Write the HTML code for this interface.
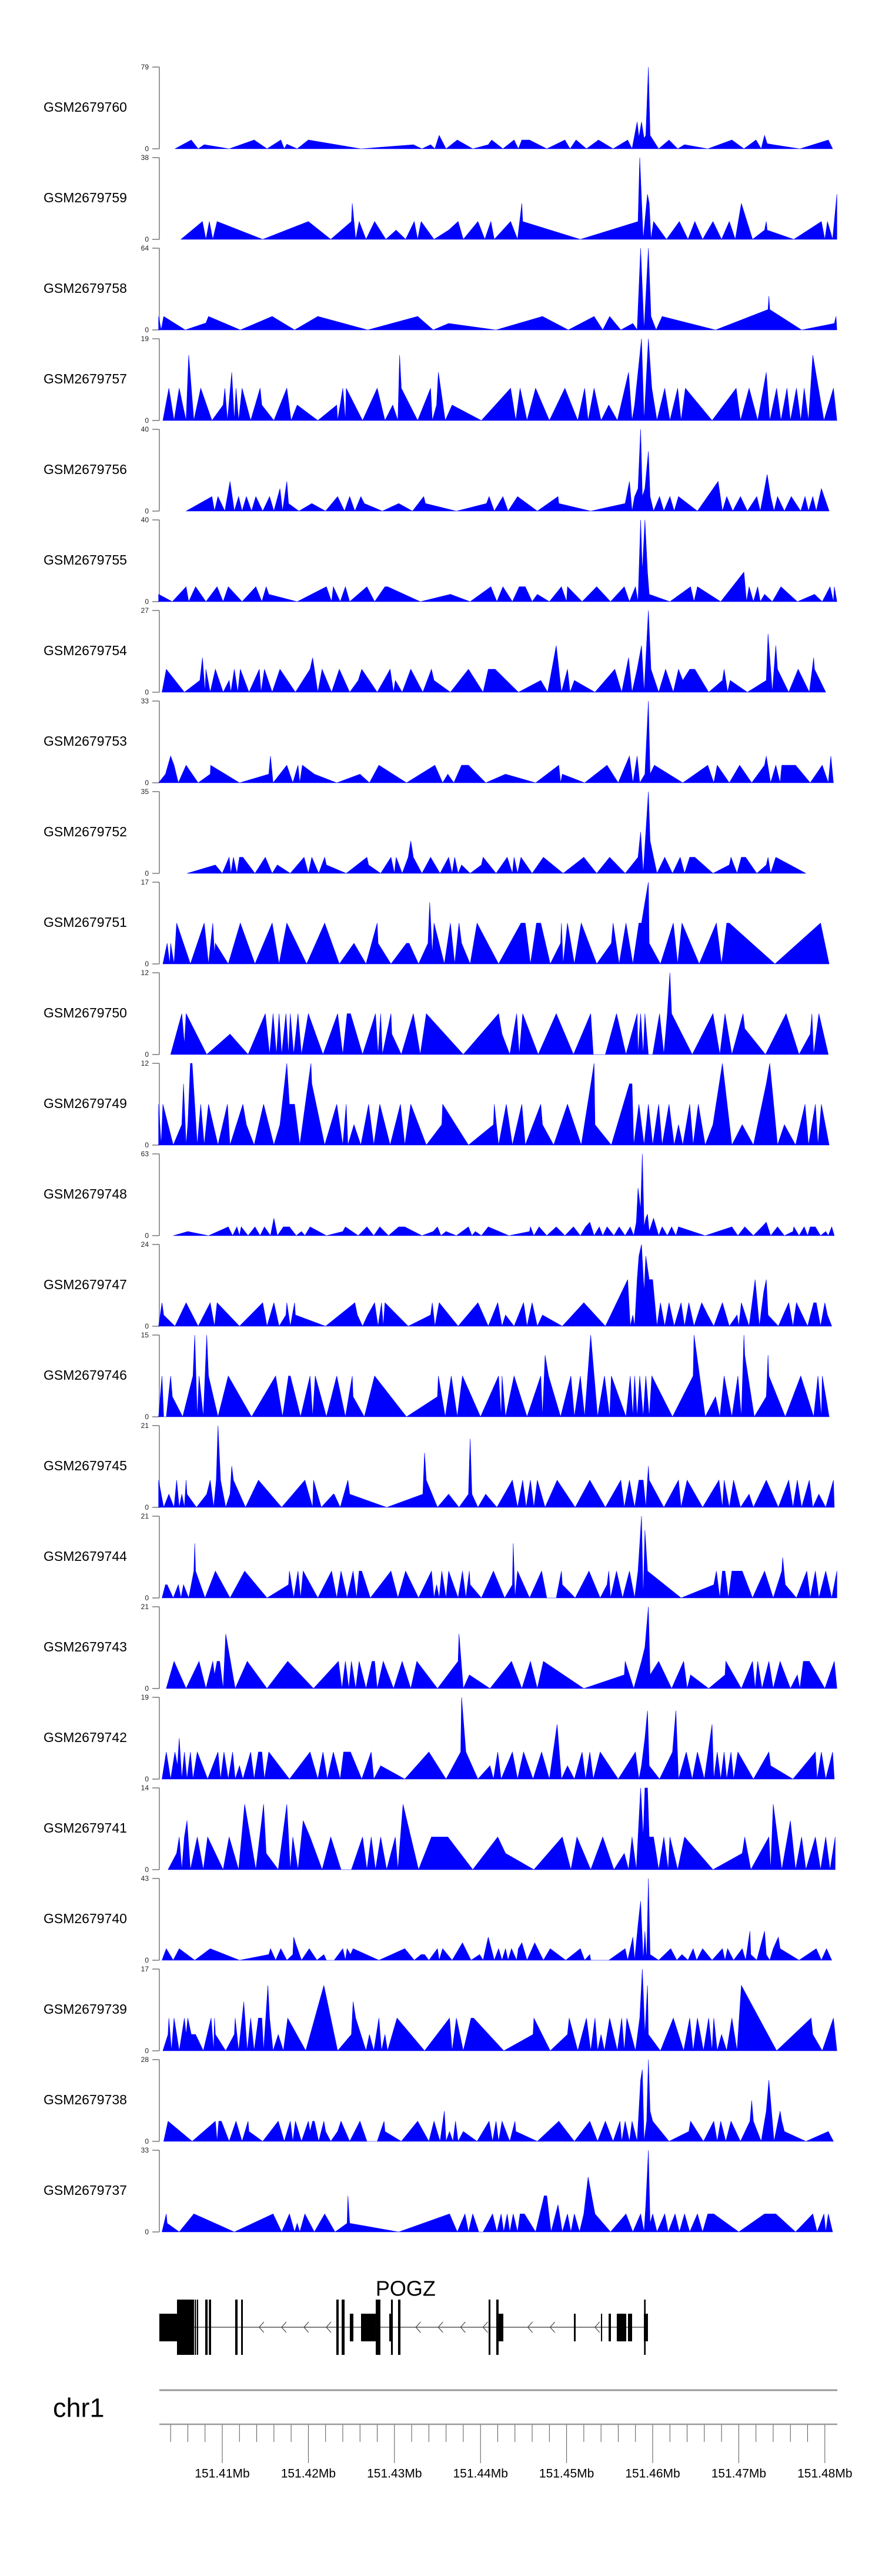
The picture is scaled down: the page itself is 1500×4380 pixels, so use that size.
<!DOCTYPE html>
<html>
<head>
<meta charset="utf-8">
<style>
html,body{margin:0;padding:0;background:#fff;}
svg{display:block;}
text{font-family:"Liberation Sans",Arial,sans-serif;}
</style>
</head>
<body>
<svg id="fig" width="1500" height="4380" viewBox="0 0 1500 4380" xmlns="http://www.w3.org/2000/svg"></svg>
<script>
// ---------- data ----------
const sampleNames = ["GSM2679760","GSM2679759","GSM2679758","GSM2679757","GSM2679756","GSM2679755","GSM2679754","GSM2679753","GSM2679752","GSM2679751","GSM2679750","GSM2679749","GSM2679748","GSM2679747","GSM2679746","GSM2679745","GSM2679744","GSM2679743","GSM2679742","GSM2679741","GSM2679740","GSM2679739","GSM2679738","GSM2679737"];
const yMax = [79,38,64,19,40,40,27,33,35,17,12,12,63,24,15,21,21,21,19,14,43,17,28,33];
// positions in kb relative to chr1:151,400,000
const cov60 = [[4.5,0],[6.4,8.5],[7.2,0],[7.9,4],[10.8,0],[13.7,8.5],[15.2,0],[16.8,8.5],[17.2,0],[17.5,4.5],[18.7,0],[20.0,8.5],[26.1,0],[32.2,4],[33.2,0],[34.2,4],[34.7,0],[35.2,13],[36.0,0],[37.3,8.5],[39.1,0],[40.9,4],[41.3,8.5],[42.6,0],[43.9,8.5],[44.4,0],[44.8,8.5],[45.7,8.5],[47.7,0],[49.8,8.5],[50.4,0],[51.1,8.5],[52.3,0],[53.7,8.5],[55.4,0],[57.1,8.5],[57.6,0],[57.9,13],[58.2,26],[58.4,11],[58.7,26],[59.0,10],[59.2,13],[59.5,79],[59.7,13],[60.7,0],[61.9,8.5],[62.9,0],[63.7,4],[66.4,0],[69.2,8.5],[70.6,0],[72.0,8.5],[72.6,0],[73.0,13],[73.3,5],[74.0,4],[77.1,0],[80.4,8.5],[80.9,0]];
const cov59 = [[5.2,0],[7.7,8.3],[8.1,0],[8.5,8.3],[8.9,0],[9.4,8.3],[14.7,0],[20.0,8.3],[22.6,0],[25.0,8.3],[25.1,16.7],[25.5,0],[25.9,8.3],[26.7,0],[27.7,8.3],[29.0,0],[30.2,4.3],[31.3,0],[32.3,8.3],[32.7,0],[33.1,8.3],[34.6,0],[36.3,4.3],[37.4,8.3],[38.0,0],[39.7,8.3],[40.5,0],[41.2,8.3],[41.6,0],[43.5,8.3],[44.3,0],[44.8,16.7],[44.9,8.3],[51.6,0],[58.3,8.3],[58.5,38],[58.9,0],[59.2,13],[59.4,21],[59.6,16.7],[59.8,0],[60.1,8.3],[61.6,0],[63.1,8.3],[64.1,0],[64.9,8.3],[65.8,0],[67.0,8.3],[68.0,0],[68.9,8.3],[69.6,0],[70.3,16.7],[71.6,0],[73.0,4.3],[73.2,8.3],[73.3,4.3],[76.4,0],[79.6,8.3],[80.0,0],[80.3,8.3],[80.9,0],[81.4,21]];
const cov58 = [[2.6,10.6],[2.9,0],[3.2,10.6],[5.7,0],[8.1,5.5],[8.4,10.6],[12.1,0],[15.8,10.6],[18.4,0],[21.1,10.6],[26.9,0],[32.7,10.6],[34.5,0],[36.3,5.1],[41.8,0],[47.2,10.6],[50.2,0],[53.2,10.6],[54.2,0],[55.0,10.6],[56.3,0],[57.7,5.1],[58.2,0],[58.6,64],[59.0,0],[59.5,64],[59.8,10.6],[60.4,0],[61.1,10.6],[67.3,0],[73.4,16],[73.5,26.5],[73.6,16],[77.3,0],[81.1,5.1],[81.3,10.6],[81.4,0]];
const cov57 = [[3.1,0],[3.8,7.5],[4.4,0],[5.0,7.5],[5.4,3.6],[5.8,0],[6.1,15.2],[6.7,0],[7.5,7.5],[8.8,0],[10.1,3.6],[10.3,7.5],[10.6,0],[11.1,11.2],[11.4,0],[11.6,7.5],[11.9,0],[12.3,7.5],[13.3,0],[14.4,7.5],[14.6,3.6],[16.0,0],[17.5,7.5],[18.0,0],[18.7,3.6],[21.1,0],[23.3,3.6],[23.4,0],[24.0,7.5],[24.3,0],[24.4,7.5],[26.3,0],[28.0,7.5],[28.9,0],[29.8,3.6],[30.4,0],[30.6,15.2],[30.8,7.5],[32.7,0],[34.2,7.5],[34.4,0],[34.9,3.6],[35.1,11.2],[35.9,0],[36.7,3.6],[40.1,0],[43.5,7.5],[44.1,0],[44.6,7.5],[45.4,0],[46.4,7.5],[48.0,0],[49.8,7.5],[51.3,0],[52.1,7.5],[52.5,0],[53.2,7.5],[54.0,0],[54.9,3.6],[55.9,0],[57.2,11.2],[57.6,0],[57.9,3.6],[58.7,19],[59.0,0],[59.5,19],[59.9,7.5],[60.5,0],[61.4,7.5],[62.0,0],[62.9,7.5],[63.3,0],[63.8,7.5],[66.9,0],[69.7,7.5],[70.2,0],[71.2,7.5],[72.2,0],[73.2,11.2],[73.6,0],[74.4,7.5],[74.9,0],[75.6,7.5],[76.0,0],[76.7,7.5],[77.2,0],[77.6,7.5],[78.1,0],[78.6,15.2],[79.9,0],[81.0,7.5],[81.4,0]];
const cov56 = [[5.8,0],[8.8,7.1],[9.1,0],[9.5,7.1],[10.3,0],[10.9,14.5],[11.4,0],[11.9,7.1],[12.3,0],[12.8,7.1],[13.4,0],[13.9,7.1],[14.7,0],[15.5,7.1],[16.0,0],[16.7,11],[17.0,0],[17.5,14.5],[17.7,3.7],[18.9,0],[20.4,3.7],[22.0,0],[23.4,7.1],[24.2,0],[24.8,7.1],[25.4,0],[26.1,7.1],[26.5,3.7],[28.6,0],[30.5,3.7],[32.1,0],[33.4,7.1],[33.6,3.7],[37.2,0],[40.7,3.7],[41.0,7.1],[41.6,0],[42.6,7.1],[43.2,0],[44.3,7.1],[46.6,0],[49.0,7.1],[49.1,3.7],[52.8,0],[56.8,3.7],[57.3,14.5],[57.6,0],[57.9,7.1],[58.3,11],[58.6,40],[58.8,7.1],[59.1,11],[59.5,29.2],[59.7,7.1],[60.1,0],[60.8,7.1],[61.3,0],[62.0,7.1],[62.5,0],[63.0,7.1],[65.2,0],[67.6,14.5],[68.1,0],[68.6,7.1],[69.3,0],[70.2,7.1],[71.0,0],[72.1,7.1],[72.5,0],[73.0,11],[73.3,18],[73.7,7.1],[74.1,0],[74.5,7.1],[75.3,0],[76.1,7.1],[77.2,0],[77.7,7.1],[78.1,0],[78.6,7.1],[79.0,0],[79.6,11],[80.5,0]];
const cov55 = [[2.6,3.6],[4.2,0],[5.8,7.3],[6.1,0],[6.9,7.3],[8.1,0],[9.4,7.3],[10.1,0],[10.7,7.3],[12.3,0],[13.9,7.3],[14.6,0],[15.1,7.3],[15.4,3.6],[18.7,0],[22.1,7.3],[22.7,0],[22.9,7.3],[23.7,0],[24.3,7.3],[24.8,0],[26.8,7.3],[27.7,0],[28.9,7.3],[29.2,7.3],[33.0,0],[36.5,3.6],[38.8,0],[41.2,7.3],[41.9,0],[42.6,7.3],[43.7,0],[44.5,7.3],[45.2,7.3],[46.0,0],[46.6,3.6],[48.0,0],[49.4,7.3],[50.0,0],[50.1,7.3],[51.8,0],[53.5,7.3],[55.1,0],[56.7,7.3],[57.3,0],[58.0,7.3],[58.3,0],[58.6,40],[58.8,14.5],[59.1,40],[59.4,14.5],[59.6,3.6],[62.0,0],[64.4,7.3],[64.8,0],[65.2,7.3],[67.9,0],[70.6,14.5],[70.9,0],[71.2,7.3],[71.7,0],[72.2,7.3],[72.5,0],[73.0,3.6],[73.9,0],[74.9,7.3],[76.8,0],[78.8,3.6],[79.7,0],[80.6,7.3],[81.0,0],[81.1,7.3],[81.4,0]];
const cov54 = [[3.0,0],[3.5,7.6],[5.6,0],[7.4,3.9],[7.7,11.4],[8.0,0],[8.1,7.6],[8.6,0],[9.2,7.6],[10.1,0],[10.8,3.9],[11.0,0],[11.4,7.6],[11.8,0],[12.1,7.6],[13.1,0],[14.3,7.6],[14.5,0],[14.9,7.6],[15.8,0],[16.7,7.6],[18.5,0],[20.2,7.6],[20.5,11.4],[21.1,0],[21.6,7.6],[22.7,0],[23.6,7.6],[24.8,0],[25.8,3.9],[26.2,7.6],[28.0,0],[29.5,7.6],[29.9,0],[30.1,3.9],[30.9,0],[31.9,7.6],[33.3,0],[34.3,7.6],[34.6,3.9],[36.5,0],[38.6,7.6],[40.3,0],[40.9,7.6],[41.7,7.6],[44.4,0],[47.0,3.9],[47.8,0],[48.8,15.4],[49.4,0],[50.1,7.6],[50.4,0],[50.9,3.9],[53.3,0],[55.6,7.6],[56.4,0],[57.2,11.4],[57.6,0],[58.2,7.6],[58.7,15.4],[59.0,0],[59.5,27],[59.8,7.6],[60.7,0],[61.5,7.6],[62.4,0],[63.0,7.6],[63.5,3.9],[64.3,7.6],[64.9,7.6],[66.5,0],[68.1,3.9],[68.3,7.6],[68.7,0],[69.0,3.9],[71.0,0],[73.2,3.9],[73.4,19.3],[73.9,0],[74.3,15.4],[74.5,7.6],[75.8,0],[76.9,7.6],[78.2,0],[78.7,11.4],[78.8,7.6],[80.1,0]];
const cov53 = [[2.6,0],[3.4,3.5],[4.0,10.8],[4.4,7.1],[4.9,0],[5.8,7.1],[7.2,0],[8.6,3.5],[8.65,7.1],[12.0,0],[15.4,3.5],[15.6,10.8],[15.9,0],[17.5,7.1],[18.2,0],[18.8,7.1],[19.0,0],[19.3,7.1],[20.7,3.5],[23.3,0],[26.0,3.5],[27.1,0],[28.2,7.1],[31.4,0],[34.7,7.1],[35.6,0],[36.2,3.5],[36.9,0],[37.8,7.1],[38.6,7.1],[40.6,0],[42.9,3.5],[46.4,0],[49.1,7.1],[49.3,0],[49.5,3.5],[52.1,0],[54.7,7.1],[56.0,0],[57.3,10.8],[57.7,0],[58.2,10.8],[58.5,0],[59.1,3.5],[59.5,33],[59.7,3.5],[60.2,7.1],[63.5,0],[66.4,7.1],[67.1,0],[67.5,7.1],[68.9,0],[70.1,7.1],[71.5,0],[73.0,7.1],[73.2,10.8],[73.7,0],[74.3,7.1],[74.8,0],[75.0,7.1],[76.6,7.1],[78.3,0],[79.7,7.1],[80.4,0],[80.7,10.8],[81.0,0]];
const cov52 = [[5.9,0],[9.2,3.6],[10.0,0],[10.8,6.9],[11.0,0],[11.3,6.9],[11.7,0],[12.0,6.9],[12.4,6.9],[13.8,0],[15.0,6.9],[15.8,0],[16.4,3.6],[17.9,0],[19.5,6.9],[20.0,0],[20.4,6.9],[21.2,0],[21.9,6.9],[22.1,3.6],[24.4,0],[26.8,6.9],[27.0,3.6],[28.4,0],[29.6,6.9],[30.0,0],[30.2,6.9],[30.9,0],[31.6,6.9],[31.9,13.9],[32.2,6.9],[33.2,0],[34.2,6.9],[35.3,0],[36.3,6.9],[36.7,0],[37.0,6.9],[37.4,0],[37.8,3.6],[38.8,0],[40.1,3.6],[40.3,6.9],[41.8,0],[43.1,6.9],[43.7,0],[43.9,6.9],[44.3,0],[44.7,6.9],[46.0,0],[47.3,6.9],[49.6,0],[52.0,6.9],[53.5,0],[55.0,6.9],[56.8,0],[58.3,6.9],[58.6,17.7],[58.9,0],[59.5,35],[59.7,13.9],[60.5,0],[61.4,6.9],[62.3,0],[63.2,6.9],[63.7,0],[64.3,6.9],[64.9,6.9],[67.0,0],[68.9,3.6],[69.1,6.9],[69.8,0],[70.3,6.9],[70.8,6.9],[72.1,0],[73.2,3.6],[73.4,6.9],[73.7,0],[74.3,6.9],[77.8,0]];
const cov51 = [[3.1,0],[3.6,4.3],[3.9,0],[4.0,4.3],[4.4,0],[4.7,8.5],[6.3,0],[7.9,8.5],[8.4,0],[8.9,8.5],[9.1,2.1],[9.2,4.3],[10.7,0],[12.1,8.5],[13.8,0],[15.8,8.5],[16.6,0],[17.5,8.5],[19.8,0],[21.9,8.5],[23.6,0],[25.3,4.3],[26.7,0],[28.0,8.5],[28.1,4.3],[29.6,0],[31.4,4.3],[31.7,4.3],[32.8,0],[33.9,4.3],[34.1,12.8],[34.4,2.1],[34.6,8.5],[35.8,0],[36.5,8.5],[37.0,0],[37.5,8.5],[37.8,4.3],[38.8,0],[39.6,8.5],[42.1,0],[44.7,8.5],[45.2,8.5],[45.8,0],[46.5,8.5],[47.0,8.5],[48.1,0],[49.3,4.3],[49.4,8.5],[49.6,0],[50.1,8.5],[50.9,0],[51.7,8.5],[53.5,0],[55.2,4.3],[55.4,8.5],[56.1,0],[56.9,8.5],[57.7,0],[58.4,8.5],[58.7,8.5],[59.1,12.8],[59.5,17],[59.6,4.3],[60.9,0],[62.4,8.5],[62.9,0],[63.4,8.5],[65.4,0],[67.4,8.5],[68.0,0],[68.6,8.5],[68.9,8.5],[74.2,0],[79.5,8.5],[80.5,0]];
const cov50 = [[4.0,0],[5.3,6],[5.6,1.5],[5.8,6],[8.2,0],[10.9,3],[13.0,0],[15.0,6],[15.5,0],[15.9,6],[16.3,0],[16.6,6],[16.9,0],[17.4,6],[17.7,0],[17.9,6],[18.3,0],[18.8,6],[19.2,0],[20.0,6],[21.7,0],[23.4,6],[24.0,0],[24.5,6],[24.9,6],[26.3,0],[27.8,6],[28.1,0],[28.4,6],[28.6,0],[29.6,6],[29.7,3],[30.8,0],[32.2,6],[33.0,0],[33.7,6],[38.0,0],[42.1,6],[42.5,3],[43.4,0],[44.2,6],[44.5,0],[44.9,6],[46.7,0],[48.8,6],[50.8,0],[52.8,6],[53.1,0],[54.5,0],[55.8,6],[56.9,0],[58.2,6],[58.3,0],[58.6,6],[58.9,0],[59.1,6],[59.5,0],[60.0,0],[60.8,6],[61.3,0],[61.7,6],[62.0,12],[62.2,6],[64.6,0],[67.0,6],[67.8,0],[68.4,6],[69.2,0],[70.5,6],[70.7,3.8],[73.1,0],[75.5,6],[77.0,0],[78.3,3],[78.5,6],[78.7,0],[79.3,6],[80.4,0]];
const cov49 = [[2.6,6],[2.9,0],[3.1,6],[4.3,0],[5.3,3],[5.5,9],[5.8,0],[6.0,3],[6.3,12],[6.5,12],[7.1,0],[7.5,6],[7.9,0],[8.4,6],[9.5,0],[10.6,6],[10.9,0],[12.4,6],[12.8,3],[13.7,0],[14.8,6],[16.0,0],[16.7,3],[17.5,12],[17.8,6],[18.4,6],[19.0,0],[20.3,12],[20.4,9],[21.9,0],[23.3,6],[24.0,0],[24.4,6],[24.6,0],[25.3,3],[26.1,0],[27.0,6],[27.6,0],[28.3,6],[29.5,0],[30.7,6],[31.2,0],[31.9,6],[33.7,0],[35.5,3],[35.6,6],[38.6,0],[41.5,3],[41.6,6],[42.1,0],[43.0,6],[43.7,0],[44.8,6],[45.2,0],[47.0,6],[47.2,3],[48.5,0],[50.1,6],[51.7,0],[53.2,12],[53.3,3],[55.2,0],[57.3,9],[57.6,9],[57.8,0],[58.4,6],[59.0,0],[59.5,6],[60.0,0],[60.7,6],[61.1,0],[61.9,6],[62.5,0],[63.0,3],[63.5,0],[64.3,6],[64.7,0],[65.3,6],[66.1,0],[67.0,3],[68.1,12],[69.2,0],[70.4,3],[71.7,0],[72.7,6],[73.2,9],[73.6,12],[74.5,0],[75.3,3],[76.6,0],[77.7,6],[78.1,0],[78.9,6],[79.2,0],[79.6,6],[80.5,0]];
const cov48 = [[4.3,0],[6.0,3.2],[8.4,0],[10.7,6.8],[11.2,0],[11.7,6.8],[12.0,0],[12.2,6.8],[13.0,0],[13.8,6.8],[14.4,0],[14.9,6.8],[15.6,0],[16.0,13.4],[16.4,0],[17.1,6.8],[17.5,6.8],[17.8,6.8],[18.6,0],[19.2,3.2],[19.6,0],[20.2,6.8],[22.1,0],[24.0,3.2],[24.3,6.8],[25.8,0],[26.8,6.8],[27.6,0],[28.3,6.8],[29.3,0],[30.5,6.8],[31.2,6.8],[33.2,0],[34.5,3.2],[35.0,6.8],[35.4,0],[36.0,3.2],[37.2,0],[38.6,6.8],[39.0,0],[39.4,3.2],[40.1,0],[40.9,6.8],[43.3,0],[45.7,3.2],[45.8,6.8],[46.2,0],[46.8,6.8],[47.7,0],[48.8,6.8],[49.8,0],[50.8,6.8],[51.6,0],[52.2,6.8],[52.7,10.4],[53.2,0],[53.8,6.8],[54.2,0],[54.7,6.8],[55.5,0],[56.1,6.8],[56.8,0],[57.4,6.8],[57.8,0],[58.1,10.4],[58.3,36.6],[58.6,20.2],[58.8,63],[59.0,6.8],[59.2,13.4],[59.4,16.6],[59.6,3.2],[60.1,13.4],[60.7,0],[61.1,6.8],[61.7,0],[62.2,6.8],[62.7,0],[63.0,6.8],[66.1,0],[69.2,6.8],[69.9,0],[70.7,6.8],[71.7,0],[72.7,6.8],[73.2,10.4],[73.7,0],[74.5,6.8],[75.3,0],[76.3,3.2],[76.4,6.8],[77.0,0],[77.6,6.8],[78.0,0],[78.3,6.8],[78.9,6.8],[79.5,0],[80.1,3.2],[80.4,0],[80.8,6.8],[81.1,0]];
const cov47 = [[2.6,0],[3.0,6.9],[3.2,3.3],[4.5,0],[5.8,6.9],[7.2,0],[8.6,6.9],[9.1,0],[9.4,6.9],[12.0,0],[14.7,6.9],[15.2,0],[16.0,6.9],[16.6,0],[17.4,3.3],[17.5,6.9],[17.9,0],[18.4,6.9],[18.5,3.3],[22.0,0],[25.4,6.9],[25.7,3.3],[26.3,0],[26.9,3.3],[27.7,6.9],[28.1,0],[28.5,6.9],[28.7,0],[28.9,6.9],[31.6,0],[34.2,3.3],[34.4,6.9],[34.7,0],[35.2,6.9],[37.4,0],[39.7,6.9],[40.9,0],[42.0,6.9],[42.5,0],[42.9,3.3],[43.9,0],[45.0,6.9],[45.4,0],[46.0,6.9],[46.6,0],[47.2,3.3],[49.5,0],[52.0,6.9],[54.5,0],[57.1,13.7],[57.4,0],[57.7,3.3],[57.9,0],[58.2,13.7],[58.4,20.6],[58.7,24],[59.0,10.1],[59.2,20.6],[59.6,13.7],[60.0,13.7],[60.5,0],[60.9,6.9],[61.4,0],[61.9,6.9],[62.5,0],[63.3,6.9],[63.7,0],[64.2,6.9],[64.8,0],[65.7,6.9],[66.4,3.3],[67.1,0],[68.1,6.9],[68.9,0],[69.8,3.3],[70.0,0],[70.3,6.9],[71.2,0],[71.9,13.7],[72.4,0],[72.9,10.1],[73.2,13.7],[73.4,3.3],[74.6,0],[75.8,6.9],[76.3,0],[76.7,6.9],[78.0,0],[78.7,6.9],[79.0,6.9],[79.5,0],[80.0,6.9],[80.3,3.3],[80.8,0]];
const cov46 = [[2.6,0],[3.0,7.5],[3.2,0],[3.5,0],[4.0,7.5],[4.2,3.7],[5.4,0],[6.6,7.5],[6.8,15],[7.1,0],[7.3,7.5],[7.8,0],[8.2,15],[8.4,7.5],[9.5,0],[10.7,7.5],[13.4,0],[16.2,7.5],[17.0,0],[17.7,7.5],[17.9,7.5],[19.1,0],[20.2,7.5],[20.5,0],[20.8,7.5],[22.1,0],[23.3,7.5],[24.3,0],[25.1,7.5],[25.2,3.7],[26.5,0],[27.7,7.5],[31.4,0],[35.0,3.7],[35.1,7.5],[35.9,0],[36.6,7.5],[37.3,0],[37.9,7.5],[40.0,0],[42.1,7.5],[42.4,0],[42.5,7.5],[42.9,0],[43.9,7.5],[45.4,0],[47.0,7.5],[47.2,0],[47.5,11.3],[47.9,7.5],[49.3,0],[50.5,7.5],[50.9,0],[51.6,7.5],[52.1,0],[52.8,15],[53.6,0],[54.4,7.5],[55.0,0],[55.2,7.5],[56.9,0],[57.4,7.5],[57.7,0],[57.9,7.5],[58.2,0],[58.5,7.5],[58.9,0],[59.2,7.5],[59.6,0],[59.9,7.5],[62.3,0],[64.7,7.5],[64.8,15],[66.1,0],[67.3,3.7],[67.8,0],[68.3,7.5],[69.2,0],[69.9,7.5],[70.3,0],[70.6,15],[70.7,11.3],[71.8,0],[73.2,3.7],[73.4,11.3],[73.5,7.5],[75.4,0],[77.2,7.5],[78.7,0],[79.2,7.5],[79.6,0],[79.7,7.5],[80.5,0]];
const cov45 = [[2.6,7],[2.9,3.4],[3.2,0],[3.8,3.4],[4.4,0],[4.7,7],[5.0,0],[5.3,3.4],[5.6,0],[5.8,7],[5.9,3.4],[7.0,0],[8.2,3.4],[8.6,7],[9.0,0],[9.3,7],[9.5,21],[9.8,7],[10.4,0],[10.9,3.4],[11.1,10.6],[11.3,7],[12.7,0],[14.2,7],[16.9,0],[19.6,7],[20.5,0],[20.6,7],[21.5,0],[22.9,3.4],[23.0,3.4],[23.7,0],[24.6,7],[24.8,3.4],[29.1,0],[33.3,3.4],[33.5,14],[33.7,7],[35.0,0],[36.3,3.4],[37.5,0],[38.6,3.4],[38.8,17.6],[39.0,3.4],[39.7,0],[40.6,3.4],[41.9,0],[43.7,7],[44.3,0],[44.9,7],[45.3,0],[45.8,7],[46.2,0],[46.6,7],[47.5,0],[48.9,7],[51.0,0],[52.7,7],[54.5,0],[56.3,7],[56.7,0],[57.3,7],[57.6,3.4],[57.9,0],[58.4,7],[58.9,7],[59.2,0],[59.5,10.6],[59.6,7],[61.3,0],[63.0,7],[63.3,0],[64.0,7],[65.8,0],[67.7,7],[68.1,0],[68.3,7],[68.9,0],[69.4,7],[70.2,0],[71.2,3.4],[71.7,0],[73.2,7],[74.6,0],[75.8,7],[76.3,0],[76.8,7],[77.3,0],[78.2,7],[78.6,0],[79.3,3.4],[80.1,0],[81.0,7],[81.1,0]];
const cov44 = [[3.0,0],[3.4,3.4],[3.6,3.4],[4.3,0],[4.9,3.4],[5.2,0],[5.5,3.4],[6.1,0],[6.7,6.9],[6.8,14],[6.9,6.9],[8.0,0],[9.2,6.9],[10.9,0],[12.6,6.9],[15.2,0],[17.7,3.4],[17.8,6.9],[18.3,0],[18.8,6.9],[19.1,0],[19.4,6.9],[21.1,0],[22.7,6.9],[23.3,0],[23.8,6.9],[24.5,0],[25.2,6.9],[25.6,0],[25.9,6.9],[26.2,6.9],[27.2,0],[29.6,6.9],[30.4,0],[31.3,6.9],[32.8,0],[34.3,6.9],[34.6,0],[34.9,3.4],[35.2,0],[35.5,6.9],[36.0,0],[36.3,6.9],[37.4,0],[37.9,6.9],[38.3,0],[38.7,6.9],[38.8,3.4],[40.1,0],[41.5,6.9],[42.8,0],[43.7,3.4],[43.8,14],[44.0,0],[44.3,6.9],[45.7,0],[47.1,6.9],[47.7,0],[48.2,0],[48.8,0],[49.4,6.9],[49.5,3.4],[51.0,0],[52.6,6.9],[53.9,0],[54.7,3.4],[54.9,6.9],[55.1,0],[55.8,6.9],[56.5,0],[57.3,6.9],[57.9,0],[58.3,6.9],[58.7,21],[58.9,0],[59.1,17.4],[59.4,6.9],[63.3,0],[67.1,3.4],[67.4,6.9],[67.8,0],[68.1,6.9],[68.4,6.9],[68.8,0],[69.2,6.9],[69.9,6.9],[70.4,6.9],[71.6,0],[73.0,6.9],[74.0,0],[75.0,6.9],[75.1,10.4],[75.4,3.4],[76.7,0],[77.9,6.9],[78.3,0],[78.9,6.9],[79.3,0],[80.1,6.9],[80.8,0],[81.4,6.9]];
const cov43 = [[3.5,0],[4.4,7],[5.8,0],[7.3,7],[8.1,0],[8.9,7],[9.1,3.5],[9.4,7],[9.7,7],[10.1,0],[10.4,14],[11.5,0],[12.9,7],[15.2,0],[17.6,7],[20.6,0],[23.5,7],[23.9,0],[24.3,7],[24.7,0],[25.0,7],[25.5,0],[25.9,7],[26.7,0],[27.4,7],[27.7,7],[28.0,0],[28.7,7],[29.9,0],[30.9,7],[31.9,0],[32.6,7],[35.0,0],[37.4,7],[37.5,14],[38.0,0],[38.7,3.5],[41.1,0],[43.6,7],[44.8,0],[45.8,7],[46.6,0],[47.3,7],[52.0,0],[56.7,3.5],[56.8,7],[57.8,0],[58.7,7],[59.1,10.6],[59.5,21],[59.7,3.5],[60.7,7],[62.2,0],[63.6,7],[64.0,0],[64.4,3.5],[66.5,0],[68.4,3.5],[68.5,7],[70.3,0],[71.6,7],[71.9,0],[72.2,7],[72.7,0],[73.5,7],[74.0,0],[74.8,7],[76.0,0],[76.8,3.5],[77.1,0],[77.5,7],[77.8,7],[78.2,7],[80.0,0],[81.1,7],[81.4,0]];
const cov42 = [[3.0,0],[3.5,6.3],[4.0,0],[4.5,6.3],[4.8,3.1],[5.0,9.5],[5.3,0],[5.6,6.3],[5.9,0],[6.3,6.3],[6.6,0],[7.1,6.3],[8.3,0],[9.5,6.3],[9.8,0],[10.2,6.3],[10.7,0],[11.2,6.3],[11.5,0],[12.0,3.1],[12.4,0],[13.3,6.3],[13.7,0],[14.2,6.3],[14.6,6.3],[14.9,0],[15.4,6.3],[17.8,0],[20.2,6.3],[21.1,0],[21.7,6.3],[22.2,0],[22.9,6.3],[23.7,0],[24.1,6.3],[24.9,6.3],[26.2,0],[27.3,6.3],[27.6,0],[28.4,3.1],[31.2,0],[34.0,6.3],[36.0,0],[37.7,6.3],[37.8,19],[38.3,6.3],[39.7,0],[41.1,3.1],[41.5,0],[42.0,6.3],[42.4,0],[43.7,6.3],[44.3,0],[45.0,6.3],[46.1,0],[47.1,6.3],[48.0,0],[48.9,12.7],[49.4,0],[50.1,3.1],[50.9,0],[51.8,6.3],[52.2,0],[52.7,6.3],[53.1,0],[53.9,6.3],[56.0,0],[58.0,6.3],[58.4,0],[58.7,3.1],[59.1,9.5],[59.4,15.9],[59.6,3.1],[60.8,0],[62.3,6.3],[62.7,15.9],[63.0,0],[63.9,6.3],[64.6,0],[65.2,6.3],[66.0,0],[66.9,12.7],[67.1,0],[67.5,6.3],[67.9,0],[68.3,6.3],[68.6,0],[69.1,6.3],[69.4,0],[69.9,6.3],[71.7,0],[73.5,6.3],[73.7,3.1],[76.3,0],[78.9,6.3],[79.1,0],[79.6,6.3],[80.1,0],[80.9,6.3],[81.1,0]];
const cov41 = [[3.7,0],[4.7,2.8],[5.0,5.6],[5.3,0],[5.6,5.6],[5.9,8.4],[6.3,0],[7.1,5.6],[7.8,0],[8.3,5.6],[10.1,0],[10.8,5.6],[11.9,0],[12.6,11.2],[13.9,0],[14.8,11.2],[15.1,2.8],[16.5,0],[17.5,11.2],[17.9,0],[18.2,5.6],[18.8,0],[19.4,8.4],[20.2,5.6],[21.6,0],[22.6,5.6],[23.8,0],[25.0,0],[26.3,5.6],[26.8,0],[27.3,5.6],[27.8,0],[28.4,5.6],[29.1,0],[30.1,5.6],[30.4,0],[31.0,11.2],[32.8,0],[34.3,5.6],[36.2,5.6],[39.1,0],[42.0,5.6],[42.9,2.8],[46.2,0],[49.5,5.6],[50.5,0],[51.2,5.6],[52.8,0],[54.2,5.6],[55.5,0],[56.7,2.8],[57.2,0],[57.6,5.6],[58.1,0],[58.4,8.4],[58.6,14],[58.9,5.6],[59.1,14],[59.4,14],[59.6,5.6],[60.1,5.6],[60.7,0],[61.3,5.6],[61.8,0],[62.0,5.6],[62.9,0],[63.7,5.6],[67.0,0],[70.4,2.8],[70.7,5.6],[71.4,0],[73.5,5.6],[73.7,0],[74.0,11.2],[75.0,0],[76.0,8.4],[76.6,0],[77.3,5.6],[77.8,0],[78.9,5.6],[79.5,0],[80.1,5.6],[80.6,0],[81.2,5.6]];
const cov40 = [[3.0,0],[3.5,6.1],[4.3,0],[5.0,6.1],[6.8,0],[8.6,6.1],[12.0,0],[15.4,3],[15.6,6.1],[16.2,0],[16.8,6.1],[17.5,0],[18.2,3],[18.3,12.2],[18.5,9.2],[19.2,0],[20.1,6.1],[21.0,0],[21.8,3],[22.1,0],[23.0,0],[24.0,6.1],[24.3,0],[24.5,6.1],[24.9,3],[25.2,6.1],[28.2,0],[31.2,6.1],[32.3,0],[33.1,3],[33.5,3],[34.0,0],[35.0,6.1],[35.2,0],[35.6,6.1],[36.7,0],[37.5,6.1],[37.9,9.2],[38.9,0],[39.9,3],[40.3,0],[40.9,12.2],[41.6,0],[42.1,6.1],[42.5,0],[42.9,6.1],[43.2,0],[43.6,6.1],[43.9,3],[44.2,0],[44.4,6.1],[44.8,9.2],[45.4,0],[46.0,6.1],[46.3,9.2],[47.3,0],[48.1,6.1],[49.9,0],[51.6,6.1],[52.1,0],[52.7,3],[52.8,0],[54.9,0],[56.8,6.1],[57.1,0],[57.7,12.2],[57.9,0],[58.3,18.5],[58.6,31.1],[58.9,0],[59.1,15.3],[59.3,0],[59.5,43],[59.7,3],[60.7,0],[62.1,6.1],[62.8,0],[63.4,3],[64.1,0],[64.7,6.1],[65.1,0],[65.8,6.1],[66.9,0],[68.1,6.1],[68.4,0],[68.7,6.1],[69.4,0],[70.4,6.1],[70.8,0],[71.3,15.3],[71.4,3],[72.1,0],[73.0,15.3],[73.2,3],[73.6,0],[74.0,6.1],[74.6,12.2],[74.8,6.1],[77.0,0],[79.0,6.1],[79.6,0],[80.2,6.1],[80.8,0]];
const cov39 = [[3.1,0],[3.7,3.4],[3.8,6.8],[4.1,0],[4.4,6.8],[5.0,0],[5.6,6.8],[5.8,3.4],[6.0,6.8],[6.4,3.4],[6.9,3.4],[7.8,0],[8.7,6.8],[9.0,0],[9.1,6.8],[9.2,3.4],[10.4,0],[11.4,3.4],[11.5,6.8],[11.9,0],[12.5,10.2],[12.9,0],[13.3,6.8],[13.7,0],[14.2,6.8],[14.6,6.8],[14.8,0],[15.3,13.6],[15.5,6.8],[15.9,0],[16.5,3.4],[17.1,0],[17.6,6.8],[19.7,0],[21.8,13.6],[23.4,0],[25.0,3.4],[25.2,10.2],[25.5,6.8],[26.7,0],[27.1,3.4],[27.6,0],[28.2,6.8],[28.5,0],[28.9,3.4],[29.2,0],[30.3,6.8],[33.5,0],[36.4,6.8],[36.7,0],[37.2,6.8],[38.0,0],[38.9,6.8],[39.2,6.8],[42.7,0],[46.1,3.4],[46.2,6.8],[48.1,0],[50.1,3.4],[50.3,6.8],[51.3,0],[52.3,6.8],[52.8,0],[53.3,6.8],[53.6,0],[54.0,3.4],[54.4,0],[55.0,6.8],[55.9,0],[56.4,6.8],[56.7,0],[57.0,6.8],[58.0,0],[58.5,6.8],[58.8,17],[59.1,3.4],[59.4,13.6],[59.5,3.4],[60.9,0],[62.4,6.8],[63.6,0],[64.3,6.8],[64.7,0],[65.2,6.8],[65.9,0],[66.5,6.8],[66.9,0],[67.1,6.8],[67.5,0],[68.0,3.4],[68.6,0],[69.2,6.8],[69.8,0],[70.3,13.6],[74.4,0],[78.4,6.8],[78.6,3.4],[79.7,0],[81.0,6.8],[81.4,0]];
const cov38 = [[3.2,0],[3.7,6.9],[6.5,0],[9.2,6.9],[9.4,0],[9.6,6.9],[9.9,6.9],[10.8,0],[11.6,6.9],[12.3,0],[13.0,6.9],[13.1,3.4],[14.7,0],[16.5,6.9],[17.2,0],[17.9,6.9],[18.2,0],[18.5,6.9],[19.2,0],[20.0,6.9],[20.2,3.4],[20.5,6.9],[20.7,6.9],[21.2,0],[21.8,6.9],[22.0,3.4],[22.6,0],[23.4,3.4],[23.8,6.9],[24.8,0],[26.0,6.9],[26.8,0],[28.0,0],[28.8,6.9],[28.9,3.4],[30.8,0],[32.7,6.9],[34.0,0],[34.6,6.9],[35.3,0],[35.8,10.4],[36.0,0],[36.4,3.4],[36.8,0],[37.1,6.9],[37.4,0],[38.0,3.4],[39.6,0],[41.0,6.9],[41.4,0],[41.8,6.9],[42.1,0],[42.5,6.9],[43.4,0],[44.0,6.9],[44.1,3.4],[46.6,0],[49.1,6.9],[50.9,0],[52.7,6.9],[53.6,0],[54.5,6.9],[55.4,0],[56.2,6.9],[56.4,0],[56.8,6.9],[57.3,0],[57.6,6.9],[58.2,0],[58.6,21],[58.8,24.6],[59.0,0],[59.3,6.9],[59.5,28],[59.7,10.4],[60.0,6.9],[61.9,0],[64.2,3.4],[64.4,6.9],[65.9,0],[67.1,6.9],[67.5,0],[67.9,6.9],[68.5,0],[69.1,6.9],[70.2,0],[71.3,6.9],[71.5,14],[71.7,6.9],[72.6,0],[73.2,10.4],[73.5,21],[74.1,0],[74.8,10.4],[75.0,6.9],[75.3,3.4],[77.8,0],[80.4,3.4],[81.0,0]];
const cov37 = [[3.0,0],[3.5,7.3],[3.6,3.5],[5.0,0],[6.7,7.3],[11.4,0],[15.9,7.3],[16.9,0],[17.8,7.3],[18.4,0],[18.7,3.5],[19.0,0],[19.6,7.3],[20.7,0],[21.9,7.3],[23.1,0],[24.5,3.5],[24.6,14.6],[24.8,3.5],[30.5,0],[36.4,7.3],[37.3,0],[38.2,7.3],[38.6,0],[39.1,7.3],[39.8,0],[40.3,0],[41.4,7.3],[41.9,0],[42.4,7.3],[42.7,0],[43.1,7.3],[43.4,0],[43.8,7.3],[44.3,0],[44.6,7.3],[45.1,7.3],[46.4,0],[47.4,14.6],[47.7,14.6],[48.2,0],[49.0,11],[49.5,0],[50.1,7.3],[50.5,0],[50.9,7.3],[51.5,0],[52.0,7.3],[52.5,22.2],[53.3,7.3],[55.1,0],[56.9,7.3],[57.7,0],[58.6,7.3],[59.0,0],[59.2,11],[59.5,33],[59.7,3.5],[60.0,7.3],[60.5,0],[61.4,7.3],[61.8,0],[62.6,7.3],[63.1,0],[63.7,7.3],[64.3,0],[65.2,7.3],[65.8,0],[66.4,7.3],[67.1,7.3],[70.0,0],[73.0,7.3],[74.3,7.3],[76.6,0],[78.6,7.3],[79.1,0],[79.9,7.3],[80.1,0],[80.4,7.3],[80.9,0]];
const coverage = [cov60,cov59,cov58,cov57,cov56,cov55,cov54,cov53,cov52,cov51,cov50,cov49,cov48,cov47,cov46,cov45,cov44,cov43,cov42,cov41,cov40,cov39,cov38,cov37];

// genome axis
const majorTicksKb = [10,20,30,40,50,60,70,80];
const tickLabels = ["151.41Mb","151.42Mb","151.43Mb","151.44Mb","151.45Mb","151.46Mb","151.47Mb","151.48Mb"];
const minorTickStartKb = 4, minorTickEndKb = 80, minorTickStepKb = 2;
const chromName = "chr1";

// gene model (kb)
const geneName = "POGZ";
const geneSpan = [2.69, 59.45];
const utrExons = [[2.69,4.74],[24.82,25.23],[26.12,27.83],[29.40,29.67],[42.10,42.65],[50.85,51.05],[53.99,54.13],[54.88,55.15],[55.83,56.93],[57.13,57.61],[58.98,59.45]];
const cdsExons = [[4.74,6.72],[6.80,6.95],[7.05,7.20],[8.02,8.30],[8.45,8.70],[11.50,11.78],[12.19,12.39],[23.25,23.52],[23.87,24.21],[27.83,28.37],[29.60,29.81],[30.42,30.70],[40.94,41.15],[41.83,42.10],[59.0,59.18]];

// ---------- layout ----------
const NS = "http://www.w3.org/2000/svg";
const svg = document.getElementById("fig");
const X0 = 378, PX_PER_KB = 14.64;
function xScale(kb){ return X0 + (kb - 10) * PX_PER_KB; }
const PANEL_TOP0 = 114, PANEL_PITCH = 154, PANEL_H = 139, AXIS_X = 271;
function mk(tag, attrs){ const e = document.createElementNS(NS, tag); for (const k in attrs) e.setAttribute(k, attrs[k]); return e; }

for (let i = 0; i < sampleNames.length; i++) {
  const top = PANEL_TOP0 + i * PANEL_PITCH;
  const zero = top + PANEL_H;
  const yS = v => zero - (v / yMax[i]) * PANEL_H;
  const g = mk("g", {});
  
  
  svg.appendChild(g);

  const lab = mk("text", {x: 74, y: top + 68, "font-size": 23, "dominant-baseline": "central", fill: "#000"});
  lab.textContent = sampleNames[i];
  
  
  g.appendChild(lab);

  const ax = mk("line", {x1: AXIS_X, y1: top, x2: AXIS_X, y2: zero, stroke: "#999", "stroke-width": 2});
  
  
  g.appendChild(ax);
  [[yMax[i], top], [0, zero]].forEach(([val, yy]) => {
    const t = mk("line", {x1: 259, y1: yy, x2: AXIS_X, y2: yy, stroke: "#777", "stroke-width": 1.5});
    
    
    g.appendChild(t);
    const tl = mk("text", {x: 253, y: yy, "font-size": 12, "text-anchor": "end", "dominant-baseline": "central", fill: "#222"});
    tl.textContent = String(val);
    
    
    g.appendChild(tl);
  });

  const pts = coverage[i].slice().sort((a,b) => a[0] - b[0]);
  let d = "M" + xScale(pts[0][0]).toFixed(1) + "," + zero;
  pts.forEach(p => { d += " L" + xScale(p[0]).toFixed(1) + "," + yS(p[1]).toFixed(1); });
  d += " L" + xScale(pts[pts.length-1][0]).toFixed(1) + "," + zero + " Z";
  const area = mk("path", {d: d, fill: "#0000FF", stroke: "#0000FF", "stroke-width": 0.6, "stroke-linejoin": "miter"});
  
  
  g.appendChild(area);
}

// ---------- gene track ----------
const GENE_MID = 3957;
const gg = mk("g", {});


svg.appendChild(gg);
const gl = mk("text", {x: xScale(31.3), y: 3891, "font-size": 36, "text-anchor": "middle", "dominant-baseline": "central", fill: "#000"});
gl.textContent = geneName;


gg.appendChild(gl);
const intron = mk("line", {x1: xScale(geneSpan[0]), y1: GENE_MID, x2: xScale(geneSpan[1]), y2: GENE_MID, stroke: "#333", "stroke-width": 1.3});


gg.appendChild(intron);
function inExon(kb){ return utrExons.concat(cdsExons).some(e => kb > e[0] - 0.6 && kb < e[1] + 0.4); }
for (let kb = geneSpan[0] + 3.8; kb < geneSpan[1] - 0.5; kb += 2.6) {
  if (inExon(kb)) continue;
  const x = xScale(kb);
  const ar = mk("polyline", {points: (x+8)+","+(GENE_MID-9)+" "+x+","+GENE_MID+" "+(x+8)+","+(GENE_MID+9), fill: "none", stroke: "#444", "stroke-width": 1.2});
  
  
  gg.appendChild(ar);
}
utrExons.forEach(e => {
  const r = mk("rect", {x: xScale(e[0]), y: 3934, width: Math.max(1.5, xScale(e[1]) - xScale(e[0])), height: 47, fill: "#000"});
  
  
  gg.appendChild(r);
});
cdsExons.forEach(e => {
  const r = mk("rect", {x: xScale(e[0]), y: 3910, width: Math.max(2, xScale(e[1]) - xScale(e[0])), height: 94, fill: "#000"});
  
  
  gg.appendChild(r);
});

// ---------- genome axis ----------
const ag = mk("g", {});


svg.appendChild(ag);
const chromLine = mk("line", {x1: 271, y1: 4064, x2: 1424, y2: 4064, stroke: "#999", "stroke-width": 3});


ag.appendChild(chromLine);
const chr = mk("text", {x: 90, y: 4094, "font-size": 45, "dominant-baseline": "central", fill: "#000"});
chr.textContent = chromName;


ag.appendChild(chr);
const axLine = mk("line", {x1: 271, y1: 4122, x2: 1424, y2: 4122, stroke: "#999", "stroke-width": 2.5});


ag.appendChild(axLine);
for (let kb = minorTickStartKb; kb <= minorTickEndKb; kb += minorTickStepKb) {
  if (majorTicksKb.includes(kb)) continue;
  const t = mk("line", {x1: xScale(kb), y1: 4123, x2: xScale(kb), y2: 4152, stroke: "#555", "stroke-width": 1});
  
  
  ag.appendChild(t);
}
majorTicksKb.forEach((kb, j) => {
  const t = mk("line", {x1: xScale(kb), y1: 4123, x2: xScale(kb), y2: 4188, stroke: "#555", "stroke-width": 1});
  
  
  ag.appendChild(t);
  const l = mk("text", {x: xScale(kb), y: 4206, "font-size": 21, "text-anchor": "middle", "dominant-baseline": "central", fill: "#000"});
  l.textContent = tickLabels[j];
  
  
  ag.appendChild(l);
});
</script>
</body>
</html>
